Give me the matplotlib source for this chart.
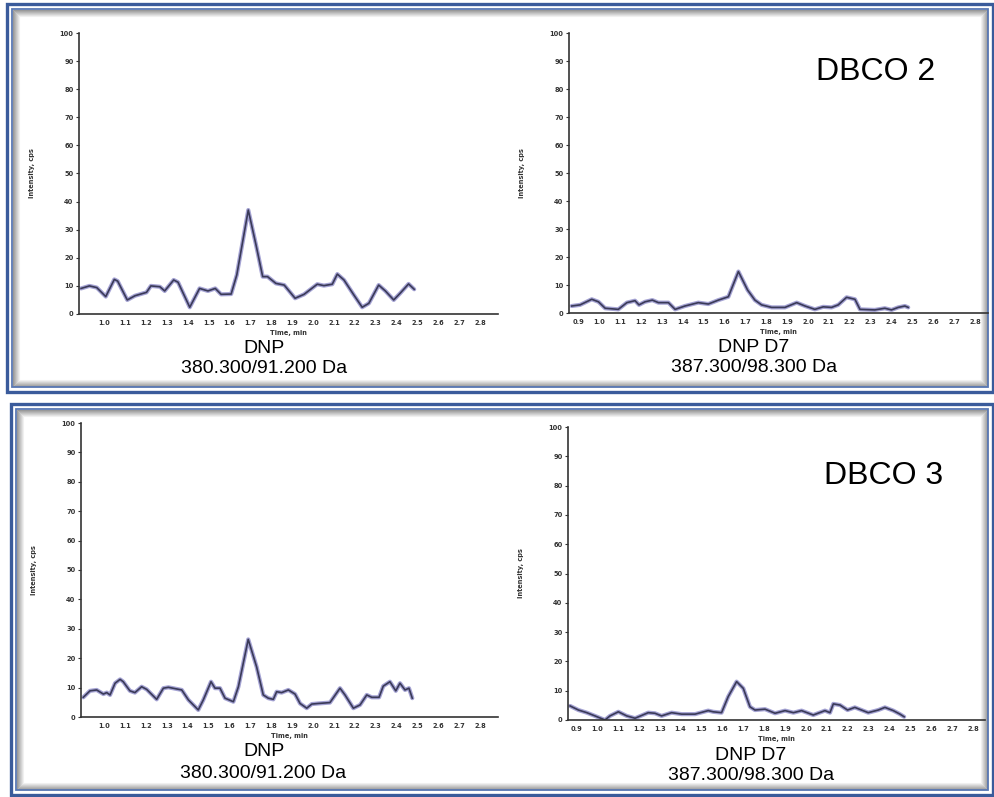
import matplotlib
matplotlib.use("Agg")
import matplotlib.pyplot as plt
from matplotlib.patches import Rectangle

W, H = 995, 797

# DBCO 2, DNP 380.300/91.200 Da
t_dnp_2 = [0.89, 0.93, 0.965, 1.008, 1.049, 1.065, 1.111, 1.148, 1.203, 1.224, 1.267, 1.29,
           1.333, 1.354, 1.41, 1.457, 1.497, 1.532, 1.56, 1.608, 1.635, 1.69, 1.727, 1.759,
           1.782, 1.822, 1.862, 1.914, 1.957, 2.02, 2.052, 2.092, 2.116, 2.148, 2.195, 2.235,
           2.267, 2.314, 2.346, 2.386, 2.417, 2.457, 2.484]
i_dnp_2 = [9.1, 10.0, 9.4, 6.2, 12.3, 11.7, 5.0, 6.5, 7.7, 10.0, 9.7, 8.2,
           12.1, 11.3, 2.4, 9.1, 8.2, 9.1, 7.0, 7.1, 13.9, 37.0, 24.6, 13.3,
           13.3, 10.9, 10.3, 5.6, 7.0, 10.6, 10.1, 10.6, 14.2, 12.1, 6.8, 2.4,
           3.8, 10.3, 8.2, 5.0, 7.4, 10.7, 8.8]

# DBCO 2, DNP D7 387.300/98.300 Da
t_d7_2 = [0.869, 0.909, 0.965, 0.997, 1.029, 1.092, 1.133, 1.172, 1.191, 1.22, 1.255, 1.284,
          1.332, 1.364, 1.411, 1.475, 1.523, 1.571, 1.619, 1.667, 1.711, 1.746, 1.778, 1.826,
          1.89, 1.946, 1.986, 2.033, 2.073, 2.113, 2.145, 2.185, 2.225, 2.249, 2.32, 2.368,
          2.40, 2.432, 2.464, 2.48]
i_d7_2 = [2.5, 2.9, 4.9, 4.0, 1.7, 1.3, 3.7, 4.4, 2.9, 4.0, 4.6, 3.7,
          3.7, 1.3, 2.5, 3.7, 3.2, 4.6, 5.8, 14.8, 8.2, 4.6, 2.9, 2.0,
          2.0, 3.7, 2.5, 1.3, 2.2, 2.0, 2.9, 5.6, 4.9, 1.3, 1.1, 1.7,
          1.1, 2.0, 2.5, 2.0]

# DBCO 3, DNP 380.300/91.200 Da
t_dnp_3 = [0.901, 0.933, 0.965, 0.997, 1.013, 1.029, 1.053, 1.077, 1.092, 1.124, 1.148, 1.18,
           1.204, 1.252, 1.284, 1.308, 1.372, 1.404, 1.451, 1.475, 1.512, 1.531, 1.555, 1.579,
           1.619, 1.643, 1.69, 1.73, 1.762, 1.786, 1.81, 1.826, 1.85, 1.882, 1.914, 1.938,
           1.97, 1.994, 2.025, 2.081, 2.129, 2.153, 2.193, 2.225, 2.257, 2.281, 2.316, 2.336,
           2.368, 2.396, 2.416, 2.44, 2.459, 2.475]
i_dnp_3 = [6.7, 8.9, 9.2, 7.8, 8.3, 7.5, 11.5, 12.8, 12.0, 8.9, 8.3, 10.3,
           9.4, 6.0, 9.8, 10.1, 9.2, 5.8, 2.4, 5.8, 12.0, 9.8, 9.8, 6.4,
           5.2, 10.3, 26.4, 17.1, 7.5, 6.4, 6.0, 8.6, 8.3, 9.2, 7.8, 4.6,
           3.0, 4.4, 4.6, 4.9, 9.8, 7.5, 3.0, 4.1, 7.5, 6.7, 6.7, 10.5,
           12.0, 8.9, 11.5, 9.2, 9.8, 6.4]

# DBCO 3, DNP D7 387.300/98.300 Da
t_d7_3 = [0.871, 0.911, 0.951, 0.99, 1.038, 1.062, 1.102, 1.142, 1.182, 1.245, 1.277, 1.309,
          1.357, 1.405, 1.469, 1.532, 1.556, 1.596, 1.628, 1.668, 1.70, 1.732, 1.756, 1.804,
          1.852, 1.90, 1.94, 1.979, 2.035, 2.091, 2.115, 2.131, 2.163, 2.199, 2.234, 2.298,
          2.346, 2.378, 2.418, 2.45, 2.47]
i_d7_3 = [4.8, 3.4, 2.5, 1.4, 0.0, 1.4, 2.8, 1.4, 0.6, 2.5, 2.3, 1.4,
          2.5, 2.0, 2.0, 3.2, 2.8, 2.5, 8.0, 13.1, 10.8, 4.5, 3.4, 3.7,
          2.3, 3.2, 2.5, 3.2, 1.7, 3.2, 2.5, 5.5, 5.1, 3.4, 4.3, 2.5,
          3.4, 4.3, 3.2, 2.0, 1.1]

y_ticks = [0, 10, 20, 30, 40, 50, 60, 70, 80, 90, 100]
x_ticks_left = [1.0, 1.1, 1.2, 1.3, 1.4, 1.5, 1.6, 1.7, 1.8, 1.9, 2.0, 2.1, 2.2, 2.3, 2.4, 2.5, 2.6, 2.7, 2.8]
x_ticks_right = [0.9] + x_ticks_left

fig = plt.figure(figsize=(W / 100, H / 100), dpi=100)
fig.patch.set_facecolor("white")

# background layer in pixel coordinates for the framed boxes
bg = fig.add_axes([0, 0, 1, 1])
bg.set_xlim(0, W)
bg.set_ylim(H, 0)
bg.axis("off")


def frame(x0, y0, x1, y1):
    # inner shadow
    for k in range(7):
        g = 0.6 + k * 0.057
        bg.add_patch(Rectangle((x0 + 6 + k, y0 + 6 + k), x1 - x0 - 12 - 2 * k, y1 - y0 - 12 - 2 * k,
                               fill=False, lw=0.8, ec=(g, g, g)))
    bg.add_patch(Rectangle((x0, y0), x1 - x0, y1 - y0, fill=False, lw=2.4, ec="#3a5b9b"))
    bg.add_patch(Rectangle((x0 + 5, y0 + 5), x1 - x0 - 10, y1 - y0 - 10, fill=False, lw=1.3, ec="#5877b3"))


frame(7, 4, 993, 392)
frame(11, 404, 993, 795)


def px_box(x0, y0, x1, y1):
    return [x0 / W, 1 - y1 / H, (x1 - x0) / W, (y1 - y0) / H]


def panel(box, xlim, t, i, xt):
    ax = fig.add_axes(px_box(*box))
    ax.patch.set_alpha(0)
    ax.plot(t, i, color="#9593cc", lw=3.0, alpha=0.85, solid_capstyle="round")
    ax.plot(t, i, color="#3a3a58", lw=1.2)
    ax.set_xlim(*xlim)
    ax.set_ylim(0, 100)
    ax.set_yticks(y_ticks)
    ax.set_yticklabels([str(v) for v in y_ticks])
    ax.set_xticks(xt)
    ax.set_xticklabels(["%.1f" % v for v in xt])
    for s in ["top", "right"]:
        ax.spines[s].set_visible(False)
    for s in ["left", "bottom"]:
        ax.spines[s].set_color("#333333")
        ax.spines[s].set_linewidth(1.2)
    ax.tick_params(axis="y", length=2, width=0.8, pad=2, labelsize=4.8, colors="#333333")
    ax.tick_params(axis="x", length=0, pad=4, labelsize=4.8, colors="#333333")
    for lab in ax.get_xticklabels() + ax.get_yticklabels():
        lab.set_fontweight("bold")
    ax.set_xlabel("Time, min", fontsize=4.8, fontweight="bold", labelpad=3, color="#333333")
    ax.set_ylabel("Intensity, cps", fontsize=4.8, fontweight="bold", labelpad=18, color="#333333")
    return ax


panel((79, 33, 498, 314), (0.88, 2.885), t_dnp_2, i_dnp_2, x_ticks_left)
panel((569, 33, 988, 313), (0.856, 2.862), t_d7_2, i_d7_2, x_ticks_right)
panel((81, 423, 498, 717), (0.89, 2.885), t_dnp_3, i_dnp_3, x_ticks_left)
panel((568, 427, 985, 720), (0.861, 2.857), t_d7_3, i_d7_3, x_ticks_right)

# captions under each chromatogram
cap = dict(family="Liberation Sans", fontsize=14, ha="center", va="center", color="black")
bg.text(264, 348, "DNP", **cap)
bg.text(264, 368, "380.300/91.200 Da", **cap)
bg.text(754, 347, "DNP D7", **cap)
bg.text(754, 367, "387.300/98.300 Da", **cap)
bg.text(264, 752, "DNP", **cap)
bg.text(263, 774, "380.300/91.200 Da", **cap)
bg.text(751, 755, "DNP D7", **cap)
bg.text(751, 776, "387.300/98.300 Da", **cap)

big = dict(family="Liberation Sans", fontsize=23, ha="center", va="center", color="black")
bg.text(876, 72, "DBCO 2", **big)
bg.text(884, 476, "DBCO 3", **big)

fig.savefig("out.png", dpi=100)
